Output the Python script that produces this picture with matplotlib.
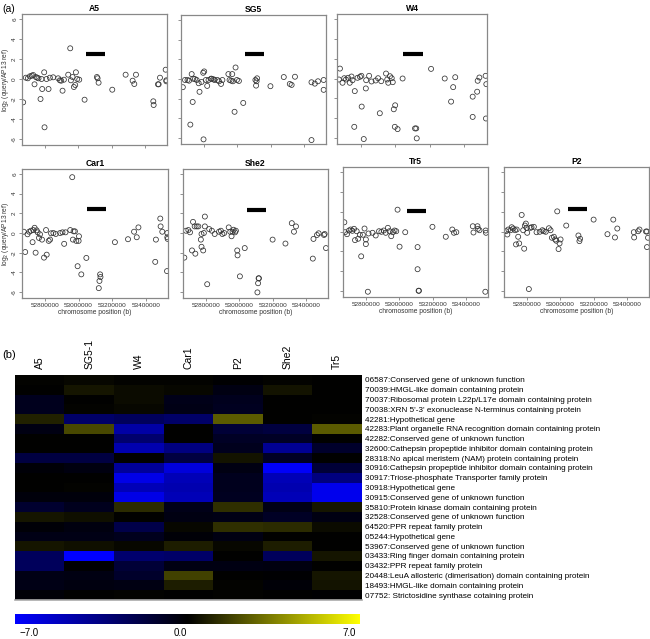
import numpy as np
import matplotlib
matplotlib.use("Agg")
import matplotlib.pyplot as plt
from matplotlib.colors import LinearSegmentedColormap

plt.rcParams['font.family'] = ['Liberation Sans', 'DejaVu Sans']

# ---- (a) log2 ratio vs chromosome position, positions in kb ----
a5_x = [52670, 52686, 52698, 52710, 52722, 52730, 52738, 52746, 52754, 52762,
        52774, 52780, 52784, 52796, 52798, 52810, 52822, 52830, 52850, 52880,
        52890, 52898, 52906, 52914, 52940, 52952, 52956, 52966, 52974, 52982,
        52986, 52994, 53006, 53038, 53112, 53116, 53122, 53204, 53284, 53326,
        53336, 53346, 53450, 53452, 53478, 53482, 53490, 53524, 53528, 53528]
a5_y = [-2.33, 0.13, 0.07, 0.27, 0.33, 0.4, -0.53, 0.2, 0.13, 0.07,
        -2.0, 0.0, -1.0, 0.67, -4.83, 0.0, -1.0, 0.13, 0.17, 0.07,
        -0.13, -0.17, -1.17, -0.07, 0.43, 3.07, -0.13, 0.2, -0.8, -0.6,
        0.67, 0.0, -0.07, -2.07, 0.2, 0.07, -0.37, -1.07, 0.43, -0.17,
        -0.5, 0.43, -2.23, -2.6, -0.53, -0.53, 0.13, 0.93, -0.13, -0.23]

sg5_x = [52674, 52687, 52702, 52711, 52727, 52733, 52736, 52746, 52757, 52769,
         52774, 52786, 52796, 52802, 52812, 52820, 52828, 52843, 52858, 52719,
         52798, 52846, 52864, 52881, 52891, 52903, 52911, 52947, 52954, 52964,
         52970, 52974, 52984, 52990, 52998, 53010, 53036, 53109, 53113, 53116,
         53119, 53199, 53279, 53315, 53326, 53346, 53445, 53465, 53484, 53518,
         53518, 53445]
sg5_y = [-0.83, -0.1, -0.1, -0.17, 0.5, -2.33, 0.03, 0.0, -0.1, -0.43,
         -1.3, -0.3, 0.63, 0.77, -0.1, -0.7, -0.1, 0.03, -0.03, -4.63,
         -6.13, 0.03, -0.1, -0.1, -0.23, -0.5, -0.1, 0.5, -0.1, -0.17,
         0.5, -0.23, -3.33, 1.17, -0.1, -0.2, -2.43, -0.1, -0.67, -0.23,
         0.07, -0.73, 0.2, -0.5, -0.6, 0.23, -0.33, -0.47, -0.23, -0.1,
         -1.1, -6.2]

w4_x = [52680, 52674, 52695, 52705, 52715, 52727, 52737, 52747, 52753, 52766,
        52763, 52782, 52796, 52804, 52806, 52818, 52830, 52832, 52849, 52863,
        52887, 52901, 52911, 52919, 52947, 52954, 52960, 52970, 52980, 52986,
        52992, 53000, 52998, 53014, 53043, 53115, 53122, 53125, 53208, 53287,
        53324, 53336, 53348, 53449, 53449, 53475, 53478, 53488, 53524, 53528,
        53526]
w4_y = [1.0, -0.1, -0.43, 0.03, -0.1, 0.07, -0.43, 0.2, -0.17, -1.27,
        -4.87, 0.07, 0.17, 0.27, -2.83, -6.1, -1.0, -0.17, 0.27, -0.3,
        -0.2, 0.03, -3.5, -0.27, 0.5, -0.1, -0.43, 0.23, 0.03, -0.37,
        -3.1, -2.7, -4.87, -5.1, 0.0, -5.03, -5.03, -6.03, 0.97, 0.0,
        -2.33, -0.87, 0.13, -1.83, -3.87, -1.33, -0.23, 0.1, 0.27, -0.57,
        -4.03]

car1_x = [52674, 52682, 52696, 52706, 52716, 52726, 52730, 52738, 52744, 52750,
          52756, 52764, 52770, 52782, 52794, 52806, 52810, 52822, 52830, 52836,
          52850, 52864, 52890, 52904, 52914, 52922, 52950, 52962, 52966, 52970,
          52978, 52986, 52994, 53000, 53002, 53016, 53046, 53120, 53124, 53128,
          53130, 53216, 53294, 53330, 53346, 53356, 53460, 53456, 53486, 53488,
          53498, 53528, 53528, 53526, 53530]
car1_y = [0.13, -1.93, -0.13, 0.13, 0.23, -0.93, 0.3, 0.53, -2.0, 0.27,
          0.07, -0.5, -0.13, -0.67, -2.5, 0.3, -2.2, -0.8, -0.67, -0.03,
          0.0, -0.1, 0.0, 0.07, -1.1, 0.07, 0.3, 5.67, -0.67, 0.17,
          0.17, -0.8, -3.37, -0.8, -0.33, -4.2, -2.53, -5.6, -4.87, -4.2,
          -4.47, -0.93, -0.63, 0.13, -0.43, 0.57, -0.67, -2.93, 1.47, 0.67,
          0.13, 0.0, -0.43, -3.87, -0.6]

she2_x = [52671, 52681, 52695, 52705, 52717, 52723, 52733, 52737, 52745, 52755,
          52770, 52774, 52774, 52784, 52794, 52794, 52808, 52820, 52836, 52853,
          52879, 52890, 52899, 52910, 52937, 52946, 52954, 52960, 52966, 52975,
          52980, 52988, 52990, 53004, 53033, 53109, 53113, 53116, 53118, 53200,
          53277, 53315, 53328, 53340, 53441, 53445, 53466, 53476, 53508, 53512,
          53520, 52788]
she2_y = [-2.5, 0.23, 0.3, 0.07, -1.77, 1.13, 0.67, -2.1, 0.67, 0.67,
          -0.67, -0.1, -1.4, -1.77, 1.67, 0.67, -5.2, 0.4, 0.23, -0.1,
          0.13, 0.23, -0.1, 0.0, 0.57, 0.13, -0.33, 0.13, 0.33, 0.07,
          0.23, -1.77, -2.27, -4.4, -1.53, -6.03, -5.1, -4.6, -4.6, -0.67,
          -1.07, 1.0, 0.13, 0.67, -2.6, -0.6, -0.2, -0.03, -0.2, -0.1,
          -1.53, 0.0]

tr5_x = [52671, 52675, 52687, 52699, 52709, 52719, 52729, 52735, 52745, 52754,
         52764, 52772, 52782, 52792, 52800, 52800, 52812, 52816, 52840, 52859,
         52879, 52893, 52907, 52919, 52932, 52942, 52952, 52962, 52972, 52982,
         52990, 53002, 53036, 53110, 53110, 53116, 53118, 53199, 53279, 53318,
         53328, 53342, 53441, 53445, 53469, 53472, 53481, 53518, 53520, 53516]
tr5_y = [0.93, -0.07, -0.27, 0.1, 0.2, 0.07, 0.27, -0.87, 0.03, -0.73,
         -0.33, -2.5, -0.33, 0.3, -0.8, -1.27, -6.07, -0.2, -0.13, -0.4,
         0.03, -0.03, 0.1, -0.13, 0.37, 0.03, -0.47, -0.07, 0.1, 0.03,
         2.2, -1.53, -0.07, -1.57, -3.8, -5.97, -5.97, 0.47, -0.53, 0.2,
         -0.13, -0.07, 0.53, -0.1, 0.53, 0.27, 0.13, 0.1, -0.13, -6.07]

p2_x = [52675, 52683, 52689, 52703, 52709, 52719, 52729, 52735, 52739, 52748,
        52754, 52769, 52778, 52784, 52788, 52794, 52798, 52802, 52812, 52822,
        52828, 52842, 52858, 52877, 52893, 52901, 52913, 52932, 52942, 52950,
        52962, 52970, 52976, 52982, 52990, 52996, 53002, 53036, 53109, 53115,
        53119, 53200, 53283, 53318, 53328, 53342, 53441, 53443, 53467, 53475,
        53514, 53520, 53520, 53526]
p2_y = [0.03, -0.3, 0.2, 0.13, 0.43, 0.3, 0.13, -1.3, 0.2, -0.53,
        -1.2, 1.67, 0.13, -1.73, 0.6, 0.8, 0.37, -0.13, -5.8, 0.37,
        0.43, 0.47, -0.07, -0.03, 0.13, 0.03, -0.03, 0.33, 0.13, -0.63,
        -0.53, -0.8, -0.93, 2.03, -1.77, -1.2, -0.8, 0.6, -0.4, -0.97,
        -0.73, 1.2, -0.27, 1.2, -0.6, 0.3, -0.07, -0.6, 0.03, 0.2,
        0.0, 0.0, -1.57, -0.63]

# deleted region (kb) and the height the bar is drawn at
bar_start, bar_end = 53048, 53162
bar_level = {"A5": 2.5, "SG5": 2.5, "W4": 2.5, "Car1": 2.4, "She2": 2.3, "Tr5": 2.1, "P2": 2.25}

pos_ticks = [52800000, 53000000, 53200000, 53400000]
ratio_ticks = [-6, -4, -2, 0, 2, 4, 6]

# ---- (b) heatmap ----
samples = ["A5", "SG5-1", "W4", "Car1", "P2", "She2", "Tr5"]
genes = [
    "06587:Conserved gene of unknown function",
    "70039:HMGL-like domain containing protein",
    "70037:Ribosomal protein L22p/L17e domain containing protein",
    "70038:XRN 5'-3' exonuclease N-terminus containing protein",
    "42281:Hypothetical gene",
    "42283:Plant organelle RNA recognition domain containing protein",
    "42282:Conserved gene of unknown function",
    "32600:Cathepsin propeptide inhibitor domain containing protein",
    "28318:No apical meristem (NAM) protein containing protein",
    "30916:Cathepsin propeptide inhibitor domain containing protein",
    "30917:Triose-phosphate Transporter family protein",
    "30918:Hypothetical gene",
    "30915:Conserved gene of unknown function",
    "35810:Protein kinase domain containing protein",
    "32528:Conserved gene of unknown function",
    "64520:PPR repeat family protein",
    "05244:Hypothetical gene",
    "53967:Conserved gene of unknown function",
    "03433:Ring finger domain containing protein",
    "03432:PPR repeat family protein",
    "20448:LeuA allosteric (dimerisation) domain containing protein",
    "18493:HMGL-like domain containing protein",
    "07752: Strictosidine synthase cotaining protein",
]
heat = [
    [0.1, 0.2, 0.1, 0.1, -0.1, 0.1, 0.0],
    [0.0, 0.6, 0.3, 0.2, -0.5, 0.5, 0.0],
    [-0.8, 0.0, 0.3, -0.7, -0.8, 0.0, 0.0],
    [-0.8, 0.1, 0.2, -0.6, -0.9, 0.0, 0.0],
    [0.9, -2.8, -2.5, -2.8, 2.5, 0.0, 0.1],
    [-0.5, 2.0, -4.5, 0.0, -1.5, -1.7, 2.5],
    [0.0, 0.0, -3.0, 0.0, -1.0, -1.0, 0.0],
    [0.0, 0.0, -4.8, -3.5, -0.8, -4.0, -1.2],
    [-1.8, -1.8, 0.0, -1.8, 0.5, -1.0, 0.0],
    [-0.2, -0.4, -4.2, -6.0, -0.5, -6.8, -1.5],
    [0.0, 0.0, -6.3, -5.0, -0.8, -5.0, -3.5],
    [0.0, 0.1, -5.0, -4.8, -0.8, -4.8, -6.5],
    [-0.3, -0.3, -6.3, -5.0, -0.9, -5.0, -6.5],
    [-1.3, -0.8, 1.2, -0.7, 1.3, -0.6, 0.6],
    [0.6, 0.4, 0.0, -0.5, -0.6, -1.0, -0.5],
    [-0.2, -0.4, -2.0, 0.2, 1.3, 1.2, 0.3],
    [-0.6, -0.6, -0.8, -0.2, -0.5, 0.0, 0.0],
    [0.6, 0.4, 0.2, 0.8, 0.2, 0.8, 0.0],
    [-2.5, -7.0, -3.0, -2.8, 0.0, -2.5, 0.6],
    [-2.5, -0.1, -1.5, -0.5, -0.5, -0.4, 0.0],
    [-0.6, -0.5, -1.2, 1.8, 0.0, -0.1, 0.6],
    [-0.6, -0.4, -0.5, 0.8, 0.1, -0.2, 0.5],
    [-0.2, 0.0, 0.1, 0.0, 0.1, 0.0, -0.1],
]

W, H = 650, 639
fig = plt.figure(figsize=(W / 100, H / 100), dpi=100)


def px_rect(l, t, r, b):
    return [l / W, 1 - b / H, (r - l) / W, (b - t) / H]


# name, x, y, box in pixels, show y labels, show x labels
panels = [
    ("A5", a5_x, a5_y, (22, 14, 167, 145), True, False),
    ("SG5", sg5_x, sg5_y, (181, 15, 326, 144), False, False),
    ("W4", w4_x, w4_y, (337, 14, 487, 144), False, False),
    ("Car1", car1_x, car1_y, (22, 169, 168, 298), True, True),
    ("She2", she2_x, she2_y, (183, 169, 328, 298), False, True),
    ("Tr5", tr5_x, tr5_y, (343, 167, 488, 297), False, True),
    ("P2", p2_x, p2_y, (504, 167, 649, 297), False, True),
]

for name, xs, ys, box, ylab, xlab in panels:
    ax = fig.add_axes(px_rect(*box))
    ax.scatter(np.array(xs) * 1000, ys, s=13, facecolors='none',
               edgecolors='#333333', linewidths=0.55)
    ax.plot([bar_start * 1000, bar_end * 1000], [bar_level[name]] * 2,
            color='black', lw=3.0, solid_capstyle='butt')
    ax.set_xlim(52663000, 53532000)
    ax.set_ylim(-6.6, 6.5)
    ax.set_xticks(pos_ticks)
    ax.set_yticks(ratio_ticks)
    ax.tick_params(direction='out', length=2.5, width=0.5, color='#666666',
                   labelsize=4.6, labelcolor='#333333', pad=1)
    if xlab:
        ax.set_xticklabels([str(t) for t in pos_ticks])
        ax.set_xlabel("chromosome position (b)", fontsize=4.8, labelpad=0.5,
                      color='#333333')
    else:
        ax.set_xticklabels([])
    if ylab:
        ax.set_yticklabels([str(t) for t in ratio_ticks], rotation=90, va='center')
        ax.set_ylabel(r"log$_2$ (query/AP13 ref)", fontsize=4.8, labelpad=1,
                      color='#333333')
    else:
        ax.set_yticklabels([])
    for sp in ax.spines.values():
        sp.set_color('#888888')
        sp.set_linewidth(0.9)
    ax.set_title(name, fontsize=6.2, fontweight='bold', pad=2.5)

fig.text(0.003, 0.993, "(a)", fontsize=7.5, va='top', ha='left')
fig.text(0.003, 0.452, "(b)", fontsize=8, va='top', ha='left')

# heatmap
cmap = LinearSegmentedColormap.from_list("by", ["#0000ff", "#000000", "#ffff00"])
axh = fig.add_axes(px_rect(15, 375, 362, 600))
axh.imshow(np.array(heat), cmap=cmap, vmin=-7, vmax=7, aspect='auto',
           interpolation='nearest')
axh.set_xticks(range(len(samples)))
axh.set_xticklabels(samples, rotation=90, fontsize=7.5)
axh.xaxis.tick_top()
axh.set_yticks(range(len(genes)))
axh.set_yticklabels(genes, fontsize=5.9)
axh.yaxis.tick_right()
axh.tick_params(axis='x', length=0, pad=4)
axh.tick_params(axis='y', length=0, pad=2.5)
for side in ['top', 'left', 'right']:
    axh.spines[side].set_visible(False)
axh.spines['bottom'].set_color('#aaaaaa')
axh.spines['bottom'].set_linewidth(1.2)

# colour key
axc = fig.add_axes(px_rect(15, 614, 360, 624))
axc.imshow(np.linspace(-7, 7, 256).reshape(1, -1), cmap=cmap, vmin=-7, vmax=7,
           aspect='auto')
axc.axis('off')
for frac, lab in [(0.04, "\u22127.0"), (0.478, "0.0"), (0.97, "7.0")]:
    axc.text(frac, -0.35, lab, transform=axc.transAxes, ha='center', va='top',
             fontsize=7)

fig.savefig("out.png", dpi=100)
